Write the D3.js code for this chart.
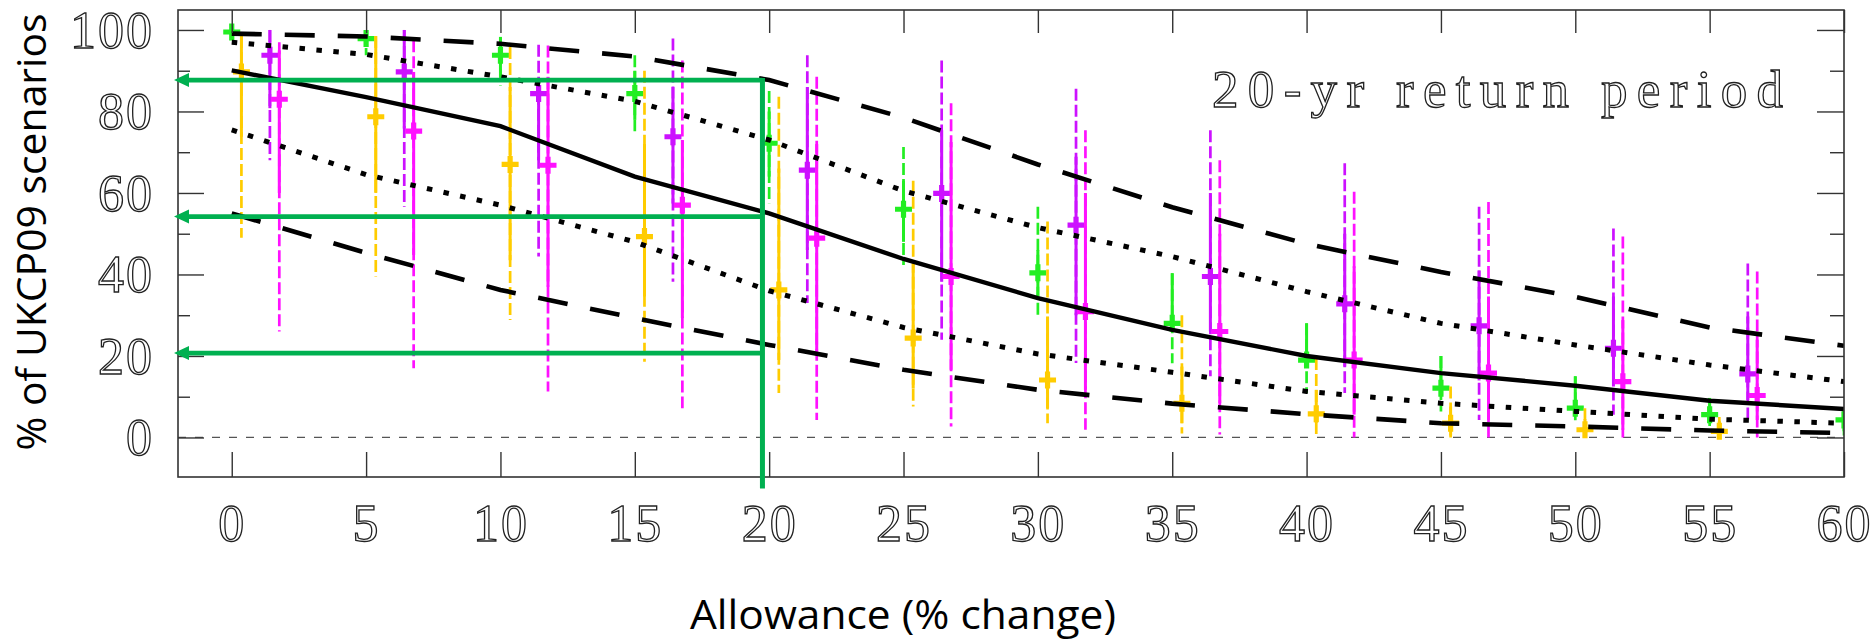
<!DOCTYPE html>
<html>
<head>
<meta charset="utf-8">
<script src="https://cdn.jsdelivr.net/npm/d3@7/dist/d3.min.js"></script>
<style>
  body { margin: 0; background: #fff; }
  svg { display: block; }
  .num { font-family: "Liberation Serif", "DejaVu Serif", serif; font-size: 52px; fill: #fff; stroke: #222; stroke-width: 1.3px; letter-spacing: 2px; }
  .title { font-family: "Open Sans", "Liberation Sans", sans-serif; font-size: 41px; fill: #000; }
  .note { font-family: "Liberation Serif", "DejaVu Serif", serif; font-size: 53px; fill: #fff; stroke: #222; stroke-width: 1.3px; }
</style>
</head>
<body>
<svg id="chart" width="1873" height="642"></svg>
<script>
// allowance (% change) on the x axis
const allowance = [0, 5, 10, 15, 20, 25, 30, 35, 40, 45, 50, 55, 60];
const xTicks = [0, 5, 10, 15, 20, 25, 30, 35, 40, 45, 50, 55, 60];
const yTicks = [0, 20, 40, 60, 80, 100];
const yMinor = [10, 30, 50, 70, 90];

// black curves (% of scenarios)
const median      = [90.1, 83.5, 76.4, 64, 55, 43.8, 34.2, 26.4, 20, 15.8, 12.7, 9, 7];
const upperDashed = [99.1, 98.4, 96.6, 93.5, 87.7, 78.5, 67, 56.5, 47.5, 40.6, 34.5, 27, 22.5];
const upperDotted = [97, 94, 88.5, 82.5, 73, 60.5, 51.5, 44.4, 35.8, 28, 22.7, 17.8, 13.7];
const lowerDotted = [75.5, 64.5, 57, 48, 36, 27, 20.5, 16, 11.3, 8.4, 6.4, 4.5, 3.5];
const lowerDashed = [55, 45.3, 36.2, 29.3, 22.7, 16.6, 11.7, 8.3, 5.7, 3.5, 2.7, 1.7, 1.1];

// green series: centre, inner range (solid), outer range (dashed)
const greenMid   = [99.5, 97.9, 93.8, 84.4, 72.2, 56, 40.4, 28, 19, 12.1, 7.2, 5.6, 4.3];
const greenInHi  = [100, 99.4, 98.3, 90, 80, 63, 46, 40.3, 28, 20, 15, 9.7, 7];
const greenInLo  = [98.5, 96.5, 88.5, 78, 64, 48, 34.6, 26.5, 19, 12.5, 9, 3.5, 1.5];
const greenOutHi = [100, 99.5, 98.3, 93.8, 85, 71.3, 56.6, 40.3, 28, 20, 15, 9.7, 7];
const greenOutLo = [98, 93.8, 86.4, 74.6, 57.5, 42.3, 29.3, 18.2, 10.9, 6.4, 3.5, 2, 0.5];

// gold series
const goldMid   = [89.7, 78.7, 67, 49.3, 36.2, 24.4, 14.1, 8.4, 5.8, 3.5, 1.9, 1.5, null];
const goldInHi  = [98.5, 98.5, 86, 72, 66, 42.7, 29.7, 17.4, 11.7, 7.6, 4.5, 4, null];
const goldInLo  = [73.8, 60, 43.5, 34.6, 19, 12, 7.2, 3.5, 3.6, 0.5, 0, 0, null];
const goldOutHi = [98.5, 98.5, 95.8, 90, 83.6, 63, 53, 30, 19.5, 12.5, 7.2, 5, null];
const goldOutLo = [49, 39.5, 28.8, 18.6, 10.9, 7.6, 3.5, 1, 0.7, 0, 0, 0, null];

// purple series
const purpleMid   = [93.8, 89.7, 84.4, 73.8, 65.6, 59.9, 52.1, 39.5, 32.8, 27.4, 21.9, 15.6, null];
const purpleInHi  = [100, 100, 86, 86, 86, 75.4, 68.9, 60, 50, 41, 34.6, 29.7, null];
const purpleInLo  = [80.8, 75.8, 68, 57.4, 46, 38.2, 30, 26, 17.4, 14, 12.5, 9.2, null];
const purpleOutHi = [100, 100, 96.4, 97.9, 93.8, 92.5, 85.6, 75.4, 67.3, 56.6, 51.3, 42.7, null];
const purpleOutLo = [68, 56.6, 44.4, 38.2, 33, 24, 18.3, 15, 10.9, 4.3, 5.6, 4.3, null];

// magenta series
const magentaMid   = [83, 75.2, 66.8, 57, 48.9, 39.5, 30.9, 26, 19, 15.8, 13.7, 10.3, null];
const magentaInHi  = [95, 89.7, 88.5, 73, 72, 72.5, 60, 50, 42, 34.6, 28.8, 24, null];
const magentaInLo  = [60, 44.8, 37, 29.3, 21, 16.6, 11.7, 8.4, 5.6, 4.3, 1.9, 4.3, null];
const magentaOutHi = [97, 97.5, 96.2, 92.5, 88.5, 82, 75.4, 68, 60.3, 57.8, 49.3, 40.7, null];
const magentaOutLo = [26, 17, 11.3, 7.2, 4.3, 2.7, 1.9, 0.7, 0, 0, 0, 0, null];

const guideX = 19.75;
const guideY = [87.7, 54.2, 20.7];
const guideTipX = -2.15;
const guideBottom = -12.5;

const width = 1873, height = 642;
const plot = { left: 178, right: 1844, top: 10, bottom: 477 };

const svg = d3.select("#chart");

const x = d3.scaleLinear().domain([-2, 60]).range([plot.left, plot.right]);
const y = d3.scaleLinear().domain([-9.7, 104.9]).range([plot.bottom, plot.top]);

svg.append("defs").append("clipPath").attr("id", "plotclip")
  .append("rect")
  .attr("x", plot.left).attr("y", plot.top)
  .attr("width", plot.right - plot.left).attr("height", plot.bottom - plot.top);

const dataLayer = svg.append("g").attr("clip-path", "url(#plotclip)");

// zero reference
dataLayer.append("line")
  .attr("x1", plot.left).attr("x2", plot.right)
  .attr("y1", y(0)).attr("y2", y(0))
  .attr("stroke", "#555")
  .attr("stroke-width", 1.3)
  .attr("stroke-dasharray", "8,9");

const series = [
  { color: "#22ee22", offset: 0,    mid: greenMid,   inHi: greenInHi,   inLo: greenInLo,   outHi: greenOutHi,   outLo: greenOutLo },
  { color: "#ffcc00", offset: 0.36, mid: goldMid,    inHi: goldInHi,    inLo: goldInLo,    outHi: goldOutHi,    outLo: goldOutLo },
  { color: "#cc11ff", offset: 1.42, mid: purpleMid,  inHi: purpleInHi,  inLo: purpleInLo,  outHi: purpleOutHi,  outLo: purpleOutLo },
  { color: "#ff11ff", offset: 1.77, mid: magentaMid, inHi: magentaInHi, inLo: magentaInLo, outHi: magentaOutHi, outLo: magentaOutLo }
];

series.forEach(s => {
  const rows = allowance.map((a, i) => ({
    px: a + s.offset, mid: s.mid[i],
    inHi: s.inHi[i], inLo: s.inLo[i], outHi: s.outHi[i], outLo: s.outLo[i]
  })).filter(d => d.mid != null);

  const g = dataLayer.append("g");

  // outer range, dashed
  g.selectAll("line.outer")
    .data(rows)
    .enter().append("line")
    .attr("class", "outer")
    .attr("x1", d => x(d.px)).attr("x2", d => x(d.px))
    .attr("y1", d => y(d.outHi)).attr("y2", d => y(d.outLo))
    .attr("stroke", s.color)
    .attr("stroke-width", 2.7)
    .attr("stroke-dasharray", "12,4");

  // inner range, solid
  g.selectAll("line.inner")
    .data(rows)
    .enter().append("line")
    .attr("class", "inner")
    .attr("x1", d => x(d.px)).attr("x2", d => x(d.px))
    .attr("y1", d => y(d.inHi)).attr("y2", d => y(d.inLo))
    .attr("stroke", s.color)
    .attr("stroke-width", 3);

  // plus markers
  g.selectAll("path.mark")
    .data(rows)
    .enter().append("path")
    .attr("class", "mark")
    .attr("d", "M-8.5,0H8.5M0,-8.5V8.5")
    .attr("transform", d => `translate(${x(d.px)},${y(d.mid)})`)
    .attr("stroke", s.color)
    .attr("stroke-width", 5.2);
});

// black curves
const line = d3.line()
  .x(d => x(d[0]))
  .y(d => y(d[1]));

const curves = [
  { values: upperDashed, dash: "30,23",    w: 4.6 },
  { values: lowerDashed, dash: "30,23",    w: 4.6 },
  { values: upperDotted, dash: "5.5,11.5", w: 5 },
  { values: lowerDotted, dash: "5.5,11.5", w: 5 },
  { values: median,      dash: null,       w: 4.4 }
];

curves.forEach(c => {
  dataLayer.append("path")
    .datum(d3.zip(allowance, c.values))
    .attr("d", line)
    .attr("fill", "none")
    .attr("stroke", "#000")
    .attr("stroke-width", c.w)
    .attr("stroke-dasharray", c.dash);
});

// frame
svg.append("rect")
  .attr("x", plot.left).attr("y", plot.top)
  .attr("width", plot.right - plot.left).attr("height", plot.bottom - plot.top)
  .attr("fill", "none")
  .attr("stroke", "#333")
  .attr("stroke-width", 1.6);

function styleAxis(g) {
  g.attr("font-size", null).attr("font-family", null).attr("fill", null);
  g.select(".domain").remove();
  g.selectAll(".tick line").attr("stroke", "#333").attr("stroke-width", 1.4);
  g.selectAll("text").attr("class", "num").attr("fill", null);
}

// bottom axis with labels
const xAxisG = svg.append("g")
  .attr("transform", `translate(0,${plot.bottom})`)
  .call(d3.axisBottom(x).tickValues(xTicks).tickSizeInner(-25).tickSizeOuter(0).tickFormat(d3.format("d")))
  .call(styleAxis);
xAxisG.selectAll("text").attr("y", 64).attr("dy", null);

svg.append("g")
  .attr("transform", `translate(0,${plot.top})`)
  .call(d3.axisTop(x).tickValues(xTicks).tickSizeInner(-23).tickSizeOuter(0).tickFormat(""))
  .call(styleAxis);

// left axis: major with labels, minor without
svg.append("g")
  .attr("transform", `translate(${plot.left},0)`)
  .call(d3.axisLeft(y).tickValues(yTicks).tickSizeInner(-26).tickSizeOuter(0).tickPadding(24))
  .call(styleAxis)
  .selectAll("text").attr("dy", "0.33em");

svg.append("g")
  .attr("transform", `translate(${plot.left},0)`)
  .call(d3.axisLeft(y).tickValues(yMinor).tickSizeInner(-12).tickSizeOuter(0).tickFormat(""))
  .call(styleAxis);

// right axis ticks
svg.append("g")
  .attr("transform", `translate(${plot.right},0)`)
  .call(d3.axisRight(y).tickValues(yTicks).tickSizeInner(-27).tickSizeOuter(0).tickFormat(""))
  .call(styleAxis);

svg.append("g")
  .attr("transform", `translate(${plot.right},0)`)
  .call(d3.axisRight(y).tickValues(yMinor).tickSizeInner(-14).tickSizeOuter(0).tickFormat(""))
  .call(styleAxis);

// green guide lines with arrows pointing at the y axis
const guide = svg.append("g").attr("stroke", "#00b050").attr("fill", "#00b050");
const tip = x(guideTipX);

guide.append("line")
  .attr("x1", x(guideX)).attr("x2", x(guideX))
  .attr("y1", y(guideY[0]) - 2).attr("y2", y(guideBottom))
  .attr("stroke-width", 5);

guide.selectAll("line.h")
  .data(guideY)
  .enter().append("line")
  .attr("class", "h")
  .attr("x1", x(guideX)).attr("x2", tip + 12)
  .attr("y1", d => y(d)).attr("y2", d => y(d))
  .attr("stroke-width", 4.6);

guide.selectAll("path.arrow")
  .data(guideY)
  .enter().append("path")
  .attr("class", "arrow")
  .attr("stroke", "none")
  .attr("d", d => `M${tip},${y(d)}L${tip + 15},${y(d) - 7}L${tip + 15},${y(d) + 7}Z`);

// texts
svg.append("text")
  .attr("class", "note")
  .attr("x", 1212).attr("y", 107)
  .attr("textLength", 571)
  .attr("lengthAdjust", "spacing")
  .text("20-yr return period");

svg.append("text")
  .attr("class", "title")
  .attr("transform", "translate(46,232) rotate(-90)")
  .attr("text-anchor", "middle")
  .attr("textLength", 437)
  .attr("lengthAdjust", "spacingAndGlyphs")
  .text("% of UKCP09 scenarios");

svg.append("text")
  .attr("class", "title")
  .attr("x", 903).attr("y", 629)
  .attr("text-anchor", "middle")
  .attr("textLength", 426)
  .attr("lengthAdjust", "spacingAndGlyphs")
  .text("Allowance (% change)");
</script>
</body>
</html>
